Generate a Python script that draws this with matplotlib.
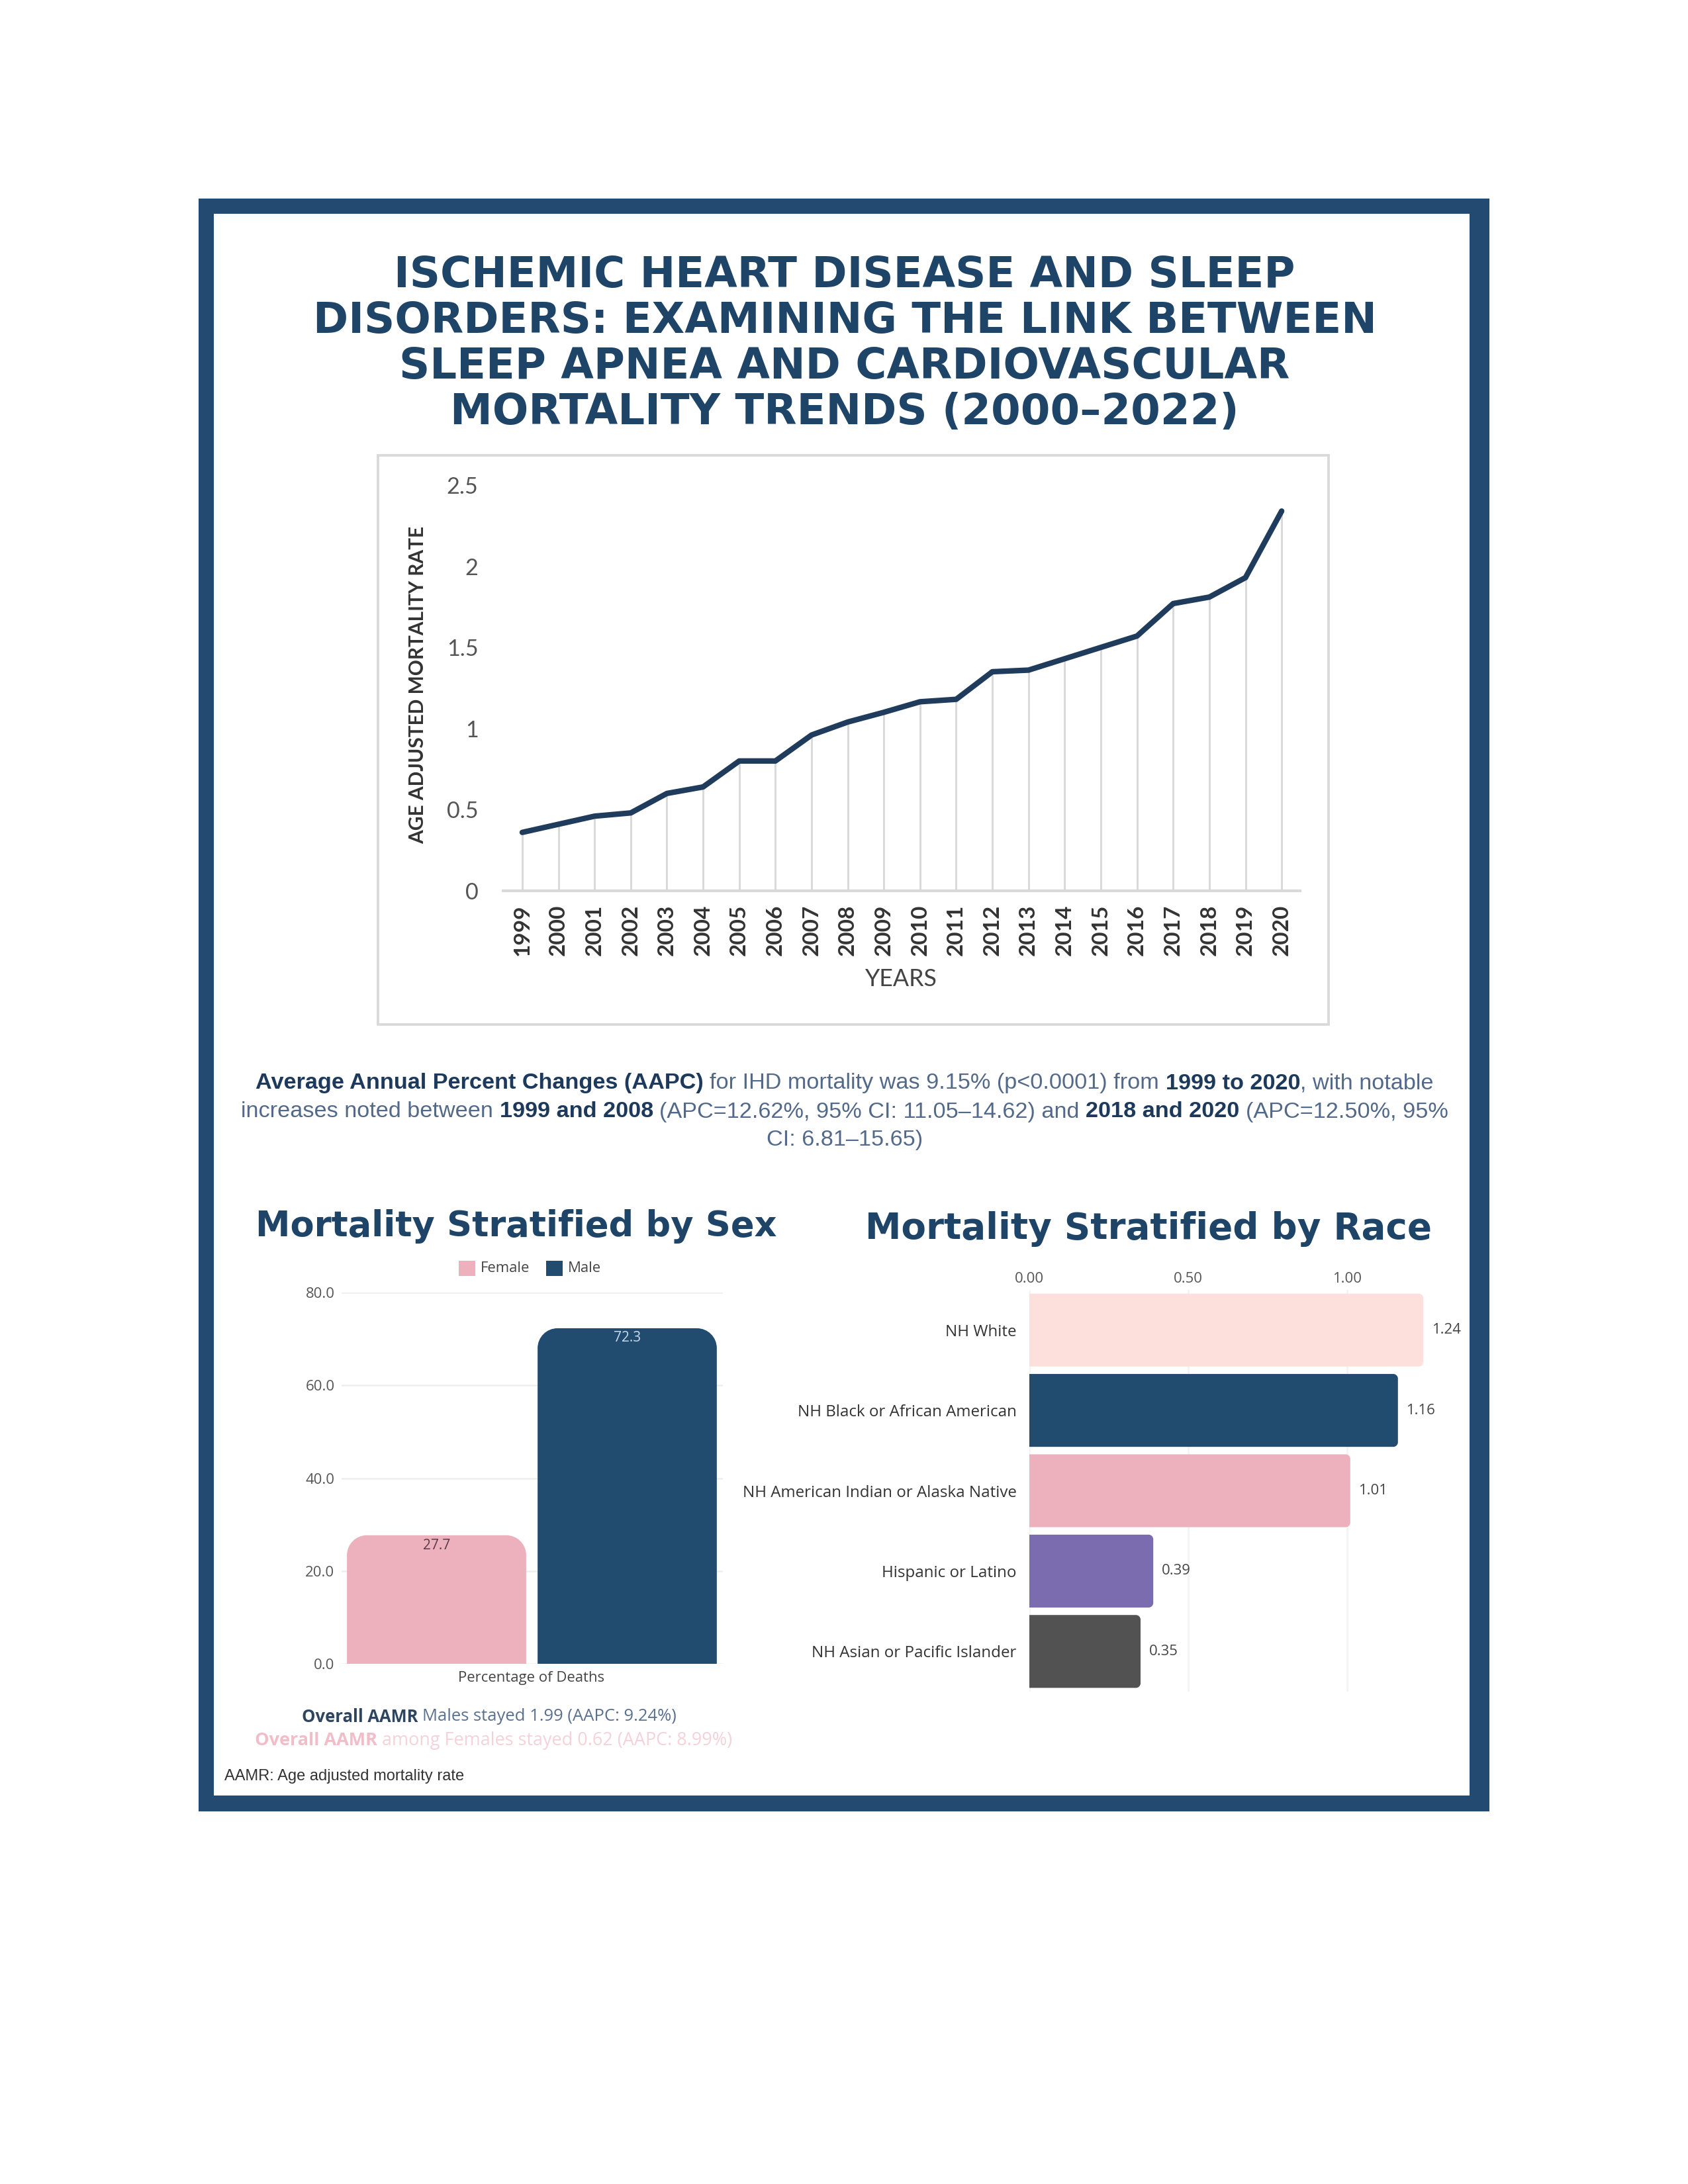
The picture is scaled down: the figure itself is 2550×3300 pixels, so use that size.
import matplotlib
matplotlib.use("Agg")
import matplotlib.pyplot as plt
from matplotlib.path import Path
from matplotlib.patches import PathPatch, Rectangle

# ---------------- data ----------------
years = list(range(1999, 2021))
aamr = [0.36, 0.41, 0.46, 0.48, 0.60, 0.64, 0.80, 0.80, 0.96, 1.04, 1.10,
        1.165, 1.18, 1.35, 1.36, 1.43, 1.50, 1.57, 1.77, 1.81, 1.93, 2.34]
y_ticks = [0, 0.5, 1, 1.5, 2, 2.5]
y_tick_labels = ["0", "0.5", "1", "1.5", "2", "2.5"]

sex_labels = ["Female", "Male"]
sex_pct = [27.7, 72.3]
sex_ticks = [0, 20, 40, 60, 80]

race_labels = ["NH White", "NH Black or African American",
               "NH American Indian or Alaska Native", "Hispanic or Latino",
               "NH Asian or Pacific Islander"]
race_aamr = [1.24, 1.16, 1.01, 0.39, 0.35]
race_ticks = [0.0, 0.5, 1.0]

# ---------------- styles ----------------
FRAME = "#234b71"
TITLE = "#1e4468"
NAVY_LINE = "#1f3c5c"
NAVY_TXT = "#1d3a5c"
SLATE = "#52698a"
MALE = "#224b70"
FEMALE = "#ecb1bd"
race_colors = ["#fde0db", "#224b70", "#ecb1bd", "#7a6cae", "#525252"]

W, H, DPI = 2550, 3300, 300
fig = plt.figure(figsize=(W / DPI, H / DPI), dpi=DPI)
fig.patch.set_facecolor("white")
renderer = fig.canvas.get_renderer()

bg = fig.add_axes([0, 0, 1, 1])
bg.set_xlim(0, W)
bg.set_ylim(H, 0)
bg.axis("off")


def ax_rect(x0, y0, x1, y1):
    return [x0 / W, 1 - y1 / H, (x1 - x0) / W, (y1 - y0) / H]


def text_width(s, size, family, weight="normal"):
    t = bg.text(0, 0, s, fontsize=size, family=family, fontweight=weight)
    w = t.get_window_extent(renderer).width
    t.remove()
    return w


def fit_size(s, target, family, weight="normal"):
    return 10 * target / text_width(s, 10, family, weight)


def runs_width(runs, size, family):
    sp = text_width("a a", size, family) - text_width("aa", size, family)
    widths = [text_width(t, size, family, w) for t, w, c, s in runs]
    total = sum(widths) + sum(sp for r in runs[:-1] if r[3])
    return total, widths, sp


def draw_runs(runs, y, size, family, x, ha="center"):
    total, widths, sp = runs_width(runs, size, family)
    cur = x - total / 2 if ha == "center" else x
    for (t, w, c, s), wd in zip(runs, widths):
        bg.text(cur, y, t, fontsize=size, family=family, fontweight=w,
                color=c, ha="left", va="center")
        cur += wd + (sp if s else 0)


def fit_runs(runs, target, family):
    total, _, _ = runs_width(runs, 10, family)
    return 10 * target / total


K = 0.5523


def vbar(ax, xc, width, h, r_px, color):
    sx = abs(ax.transData.transform((1, 0))[0] - ax.transData.transform((0, 0))[0])
    sy = abs(ax.transData.transform((0, 1))[1] - ax.transData.transform((0, 0))[1])
    rx, ry = r_px / sx, r_px / sy
    x0, x1, y0, y1 = xc - width / 2, xc + width / 2, 0, h
    verts = [(x0, y0), (x0, y1 - ry), (x0, y1 - ry + K * ry), (x0 + rx - K * rx, y1),
             (x0 + rx, y1), (x1 - rx, y1), (x1 - rx + K * rx, y1), (x1, y1 - ry + K * ry),
             (x1, y1 - ry), (x1, y0), (x0, y0)]
    codes = [Path.MOVETO, Path.LINETO, Path.CURVE4, Path.CURVE4, Path.CURVE4, Path.LINETO,
             Path.CURVE4, Path.CURVE4, Path.CURVE4, Path.LINETO, Path.CLOSEPOLY]
    ax.add_patch(PathPatch(Path(verts, codes), facecolor=color, edgecolor="none", zorder=3))


def hbar(ax, yc, height, v, r_px, color):
    sx = abs(ax.transData.transform((1, 0))[0] - ax.transData.transform((0, 0))[0])
    sy = abs(ax.transData.transform((0, 1))[1] - ax.transData.transform((0, 0))[1])
    rx, ry = r_px / sx, r_px / sy
    y0, y1, x0, x1 = yc - height / 2, yc + height / 2, 0, v
    verts = [(x0, y0), (x1 - rx, y0), (x1 - rx + K * rx, y0), (x1, y0 + ry - K * ry),
             (x1, y0 + ry), (x1, y1 - ry), (x1, y1 - ry + K * ry), (x1 - rx + K * rx, y1),
             (x1 - rx, y1), (x0, y1), (x0, y0)]
    codes = [Path.MOVETO, Path.LINETO, Path.CURVE4, Path.CURVE4, Path.CURVE4, Path.LINETO,
             Path.CURVE4, Path.CURVE4, Path.CURVE4, Path.LINETO, Path.CLOSEPOLY]
    ax.add_patch(PathPatch(Path(verts, codes), facecolor=color, edgecolor="none", zorder=3))


# ---------------- frame ----------------
bg.add_patch(Rectangle((300, 300), 1950, 2437, facecolor=FRAME, edgecolor="none", zorder=0))
bg.add_patch(Rectangle((323, 323), 1897, 2390, facecolor="white", edgecolor="none", zorder=0.5))

# ---------------- title ----------------
TFAM = ["DejaVu Sans"]
title_lines = ["ISCHEMIC HEART DISEASE AND SLEEP",
               "DISORDERS: EXAMINING THE LINK BETWEEN",
               "SLEEP APNEA AND CARDIOVASCULAR",
               "MORTALITY TRENDS (2000–2022)"]
title_y = [416, 485, 554, 623]
tsize = fit_size(title_lines[1], 1608, TFAM, "bold")
for s, y in zip(title_lines, title_y):
    bg.text(1276, y, s, fontsize=tsize, family=TFAM, fontweight="bold",
            color=TITLE, ha="center", va="center")

# ---------------- line chart ----------------
bg.add_patch(Rectangle((571, 688), 1436, 860, facecolor="none", edgecolor="#d9d9d9",
                       lw=0.9, zorder=1))
CFAM = ["Lato", "DejaVu Sans"]
ax1 = fig.add_axes(ax_rect(760, 733, 1964, 1346))
ax1.set_facecolor("none")
ax1.vlines(years, 0, aamr, color="#d9d9d9", lw=0.7, zorder=1)
ax1.plot(years, aamr, color=NAVY_LINE, lw=2.0, zorder=3, solid_capstyle="round")
ax1.set_xlim(1998.47, 2020.51)
ax1.set_ylim(0, 2.5)
ax1.set_yticks(y_ticks)
ax1.set_yticklabels(y_tick_labels, fontsize=8.2, family=CFAM, color="#555555")
ax1.set_xticks(years)
ax1.set_xticklabels([str(y) for y in years], rotation=90, fontsize=8.0, family=CFAM,
                    fontweight="bold", color="#333333")
for s in ["top", "right", "left"]:
    ax1.spines[s].set_visible(False)
ax1.spines["bottom"].set_color("#d9d9d9")
ax1.spines["bottom"].set_linewidth(1.0)
ax1.tick_params(axis="both", length=0)
ax1.tick_params(axis="y", pad=9)
ax1.tick_params(axis="x", pad=5)
ylab = "AGE ADJUSTED MORTALITY RATE"
ysz = fit_size(ylab, 481, CFAM, "bold")
ax1.set_ylabel(ylab, fontsize=ysz, family=CFAM, fontweight="bold", color="#333333")
ax1.yaxis.set_label_coords((645 - 760) / 1204, (1346 - 1035) / 613)
bg.text(1360, 1479, "YEARS", fontsize=8.6, family=CFAM, color="#444444",
        ha="center", va="center")

# ---------------- paragraph ----------------
PFAM = ["Liberation Sans Narrow", "Liberation Sans"]
para = [
    [("Average Annual Percent Changes (AAPC)", "bold", NAVY_TXT, True),
     ("for IHD mortality was 9.15% (p<0.0001) from", "normal", SLATE, True),
     ("1999 to 2020", "bold", NAVY_TXT, False),
     (", with notable", "normal", SLATE, False)],
    [("increases noted between", "normal", SLATE, True),
     ("1999 and 2008", "bold", NAVY_TXT, True),
     ("(APC=12.62%, 95% CI: 11.05–14.62) and", "normal", SLATE, True),
     ("2018 and 2020", "bold", NAVY_TXT, True),
     ("(APC=12.50%, 95%", "normal", SLATE, False)],
    [("CI: 6.81–15.65)", "normal", SLATE, False)],
]
psize = fit_runs(para[0], 1783, PFAM)
for runs, y in zip(para, [1637, 1680, 1722]):
    draw_runs(runs, y, psize, PFAM, 1276)

# ---------------- section headings ----------------
h1 = "Mortality Stratified by Sex"
h2 = "Mortality Stratified by Race"
hs = fit_size(h1, 786, TFAM, "bold")
bg.text(780, 1853, h1, fontsize=hs, family=TFAM, fontweight="bold", color=TITLE,
        ha="center", va="center")
hs2 = fit_size(h2, 855, TFAM, "bold")
bg.text(1735, 1857, h2, fontsize=hs2, family=TFAM, fontweight="bold", color=TITLE,
        ha="center", va="center")

# ---------------- sex chart ----------------
SFAM = ["Open Sans", "DejaVu Sans"]
ax2 = fig.add_axes(ax_rect(515.5, 1953, 1091.5, 2514))
ax2.set_facecolor("none")
ax2.set_xlim(-0.5, 1.5)
ax2.set_ylim(0, 80)
for i, (v, c) in enumerate(zip(sex_pct, [FEMALE, MALE])):
    vbar(ax2, i, 0.94, v, 30, c)
ax2.set_yticks(sex_ticks)
ax2.set_yticklabels([f"{t:.1f}" for t in sex_ticks], fontsize=5.3, family=SFAM,
                    color="#555555")
ax2.set_xticks([])
ax2.yaxis.grid(True, color="#eeeeee", lw=0.6)
ax2.set_axisbelow(True)
for s in ax2.spines.values():
    s.set_visible(False)
ax2.tick_params(axis="y", length=0, pad=2.4)
ax2.annotate(f"{sex_pct[0]:.1f}", (0, sex_pct[0]), xytext=(0, -3.8), textcoords="offset points",
             ha="center", va="center", fontsize=5.0, family=SFAM, color="#5a3a48", zorder=5)
ax2.annotate(f"{sex_pct[1]:.1f}", (1, sex_pct[1]), xytext=(0, -3.4), textcoords="offset points",
             ha="center", va="center", fontsize=5.0, family=SFAM, color="#c7daf0", zorder=5)
bg.text(803, 2536, "Percentage of Deaths", fontsize=5.3, family=SFAM, color="#444444",
        ha="center", va="center")
# legend
for (lbl, c, sx, tx) in [(sex_labels[0], FEMALE, 693, 726), (sex_labels[1], MALE, 825, 858)]:
    bg.add_patch(Rectangle((sx, 1905), 25, 23, facecolor=c, edgecolor="none", zorder=2))
    bg.text(tx, 1917, lbl, fontsize=5.3, family=SFAM, color="#444444", ha="left", va="center")

# AAMR notes
l1 = [("Overall AAMR", "bold", "#2d4560", True),
      ("Males stayed 1.99 (AAPC: 9.24%)", "normal", "#5a7090", False)]
l2 = [("Overall AAMR", "bold", "#f1bdc8", True),
      ("among Females stayed 0.62 (AAPC: 8.99%)", "normal", "#f5d2da", False)]
s1 = fit_runs(l1, 566, SFAM)
draw_runs(l1, 2594, s1, SFAM, 456, ha="left")
s2 = fit_runs(l2, 720, SFAM)
draw_runs(l2, 2630, s2, SFAM, 385, ha="left")
fn = "AAMR: Age adjusted mortality rate"
bg.text(339, 2684, fn, fontsize=fit_size(fn, 361, PFAM), family=PFAM, color="#333333",
        ha="left", va="center")

# ---------------- race chart ----------------
ax3 = fig.add_axes(ax_rect(1555, 1949, 2179, 2556))
ax3.set_facecolor("none")
ax3.set_xlim(0, 1.3)
ax3.set_ylim(4.5, -0.5)
for i, (v, c) in enumerate(zip(race_aamr, race_colors)):
    hbar(ax3, i, 0.907, v, 7, c)
    ax3.annotate(f"{v:.2f}", (v, i), xytext=(3.0, 0), textcoords="offset points",
                 ha="left", va="center", fontsize=5.3, family=SFAM, color="#444444")
ax3.set_yticks(range(len(race_labels)))
rsz = fit_size(race_labels[2], 414, SFAM)
ax3.set_yticklabels(race_labels, fontsize=rsz, family=SFAM, color="#333333")
ax3.xaxis.tick_top()
ax3.set_xticks(race_ticks)
ax3.set_xticklabels([f"{t:.2f}" for t in race_ticks], fontsize=5.3, family=SFAM,
                    color="#555555")
ax3.xaxis.grid(True, color="#f3f3f3", lw=0.6)
ax3.set_axisbelow(True)
for s in ax3.spines.values():
    s.set_visible(False)
ax3.tick_params(axis="both", length=0)
ax3.tick_params(axis="y", pad=4.6)
ax3.tick_params(axis="x", pad=1.5)

fig.savefig("out.png", dpi=DPI, facecolor="white")
